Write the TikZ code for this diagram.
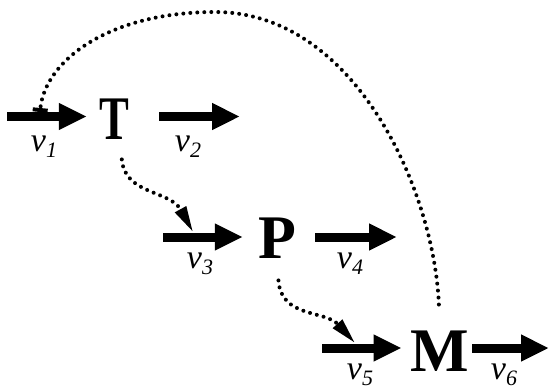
\documentclass[tikz,border=0pt]{standalone}
\usepackage{fontspec}
\setmainfont{Liberation Serif}
\usetikzlibrary{positioning, arrows.meta}

\newcommand{\vsub}[1]{\textit{v}\raisebox{-6pt}{\fontsize{22}{22}\selectfont\textit{#1}}}

\begin{document}
\begin{tikzpicture}[
  x=1pt, y=-1pt,
  stage/.style = {inner sep=0pt, font=\fontsize{62}{62}\selectfont\bfseries},
  flow/.style = {line width=9pt, -{Triangle[length=28pt,width=25pt]}},
  dotline/.style = {line width=4pt, line cap=round, dash pattern=on 0pt off 7pt},
  lab/.style = {inner sep=0pt, anchor=base, font=\fontsize{34}{34}\selectfont}
  ]
\useasboundingbox (0,0) rectangle (549,389);

\node[stage] (T) at (114,119) {\scalebox{0.72}[1]{T}};
\node[stage] (P) at (277,238) {P};
\node[stage] (M) at (440,351) {M};

% in and out flows
\coordinate (in1) at (7,116.5);
\coordinate (out1) at (240,116.5);
\coordinate (in2) at (163,237);
\coordinate (out2) at (397,237);
\coordinate (in3) at (322,348);
\coordinate (out3) at (549,348);

\draw[flow, shorten >=12pt] (in1) -- (in1 -| T.west);
\draw[flow, shorten <=30pt] (out1 -| T.east) -- (out1);
\draw[flow, shorten >=15pt] (in2) -- (in2 -| P.west);
\draw[flow, shorten <=19pt] (out2 -| P.east) -- (out2);
\draw[flow, shorten >=9pt] (in3) -- (in3 -| M.west);
\draw[flow, shorten <=3pt] (out3 -| M.east) -- (out3);

\node[lab] (v1) at (44,151) {\vsub{1}};
\node[lab] (v2) at (188,151) {\vsub{2}};
\node[lab] (v3) at (200,268) {\vsub{3}};
\node[lab] (v4) at (350,268) {\vsub{4}};
\node[lab] (v5) at (360,379) {\vsub{5}};
\node[lab] (v6) at (504,379) {\vsub{6}};

% dotted links
\coordinate (hit1) at (40,112);
\coordinate (hit2) at (193,232);
\coordinate (hit3) at (355,343);
\coordinate (arcTop) at (215,12);

\draw[dotline, shorten <=20pt, -{Triangle[length=26pt,width=12pt]}]
  ([xshift=6pt]T.south) .. controls (125,195) and (170,190) .. (hit2);
\draw[dotline, shorten <=22pt, -{Triangle[length=26pt,width=12pt]}]
  (P.south) .. controls (281,318) and (325,310) .. (hit3);
\draw[dotline, shorten <=26pt, -{Rectangle[length=4pt,width=15pt]}]
  (M.north) .. controls (434,190) and (355,12) .. (arcTop)
  .. controls (110,12) and (45,60) .. (hit1);

\end{tikzpicture}
\end{document}
